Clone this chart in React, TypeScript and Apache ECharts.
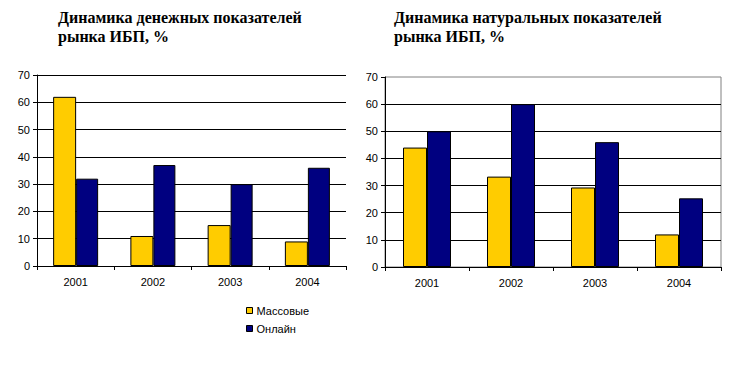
import React, { useEffect, useRef } from "react";
import * as echarts from "echarts";

const categories = ["2001", "2002", "2003", "2004"];
const seriesNames = ["Массовые", "Онлайн"];
const moneyMass = [62, 11, 15, 9];
const moneyOnline = [32, 37, 30, 36];
const naturalMass = [44, 33.3, 29.3, 12];
const naturalOnline = [50, 60, 46, 25.3];
const titleLeft = "Динамика денежных показателей\nрынка ИБП, %";
const titleRight = "Динамика натуральных показателей\nрынка ИБП, %";

const YELLOW = "#FFCC00";
const NAVY = "#000080";
const labelStyle = { fontFamily: "Liberation Sans, Arial", fontSize: 11, color: "#000" };
const titleStyle = { fontFamily: "Liberation Serif, Times New Roman", fontWeight: "bold", fontSize: 16, lineHeight: 19, color: "#000" };

export default function App() {
  const ref = useRef<HTMLDivElement>(null);
  useEffect(() => {
    if (!ref.current) return;
    const chart = echarts.init(ref.current, null, { renderer: "svg" });
    const xAxisBase = (gridIndex: number) => ({
      type: "category",
      gridIndex,
      data: categories,
      axisLine: { lineStyle: { color: "#000", width: 1 } },
      axisTick: { show: true, alignWithLabel: false, length: 4, lineStyle: { color: "#000" } },
      axisLabel: { ...labelStyle, margin: 10 },
    });
    const yAxisBase = (gridIndex: number, showMax: boolean) => ({
      type: "value",
      gridIndex,
      min: 0,
      max: 70,
      interval: 10,
      axisLine: { show: true, lineStyle: { color: "#000", width: 1 } },
      axisTick: { show: true, length: 4, lineStyle: { color: "#000" } },
      axisLabel: { ...labelStyle, margin: 7 },
      splitLine: { show: true, showMaxLine: showMax, lineStyle: { color: "#000", width: 1 } },
    });
    const bar = (name: string, data: number[], idx: number, color: string, w: number) => ({
      name,
      type: "bar",
      xAxisIndex: idx,
      yAxisIndex: idx,
      data,
      barWidth: w,
      barGap: "0%",
      itemStyle: { color, borderColor: "#000", borderWidth: 1 },
    });
    chart.setOption({
      animation: false,
      backgroundColor: "#fff",
      title: [
        { text: titleLeft, left: 58, top: 8, padding: 0, textStyle: titleStyle },
        { text: titleRight, left: 394, top: 8, padding: 0, textStyle: titleStyle },
      ],
      legend: {
        data: seriesNames,
        orient: "vertical",
        left: 246,
        top: 305,
        padding: 0,
        itemWidth: 6,
        itemHeight: 6,
        itemGap: 7,
        icon: "rect",
        itemStyle: { borderColor: "#000", borderWidth: 1 },
        textStyle: { ...labelStyle, padding: [0, 0, 0, -1] },
      },
      grid: [
        { left: 37, right: 391, top: 75, bottom: 103, containLabel: false },
        { left: 385, right: 16, top: 77, bottom: 102, containLabel: false, show: true, borderColor: "#808080", borderWidth: 1, backgroundColor: "transparent" },
      ],
      xAxis: [xAxisBase(0), xAxisBase(1)],
      yAxis: [yAxisBase(0, true), yAxisBase(1, false)],
      series: [
        bar(seriesNames[0], moneyMass, 0, YELLOW, 23),
        bar(seriesNames[1], moneyOnline, 0, NAVY, 22),
        bar(seriesNames[0], naturalMass, 1, YELLOW, 24),
        bar(seriesNames[1], naturalOnline, 1, NAVY, 24),
      ],
    });
    return () => chart.dispose();
  }, []);
  return (
    <div
      ref={ref}
      style={{ position: "fixed", left: 0, top: 0, width: 737, height: 369, background: "#fff" }}
    />
  );
}
